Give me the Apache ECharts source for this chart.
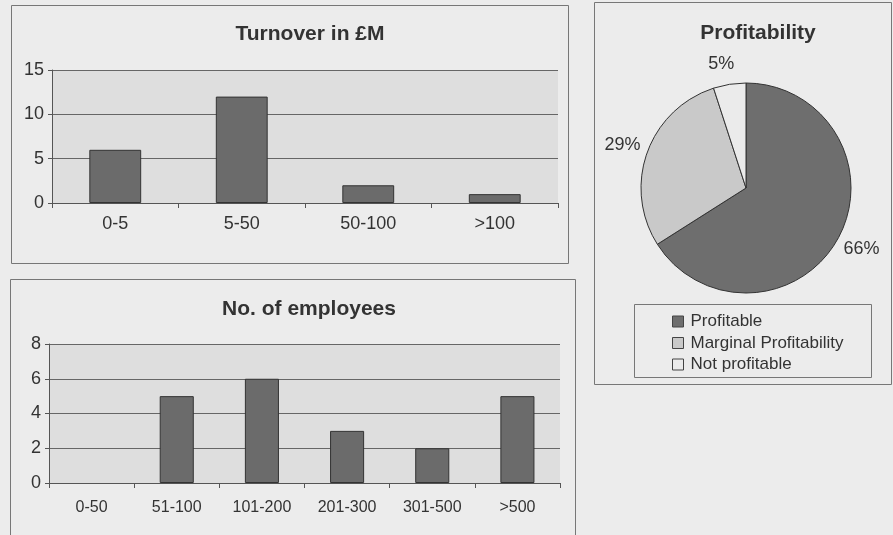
<!DOCTYPE html>
<html><head><meta charset="utf-8">
<script src="https://cdn.jsdelivr.net/npm/echarts@6/dist/echarts.min.js"></script>
<style>html,body{margin:0;padding:0;background:#ececec}#c{width:893px;height:535px}</style>
</head><body><div id="c"></div>
<script>
const turnoverCats = ['0-5', '5-50', '50-100', '>100'];
const turnoverVals = [6, 12, 2, 1];
const employeeCats = ['0-50', '51-100', '101-200', '201-300', '301-500', '>500'];
const employeeVals = [0, 5, 6, 3, 2, 5];
const profitNames = ['Profitable', 'Marginal Profitability', 'Not profitable'];
const profitVals = [66, 29, 5];
const profitColors = ['#6e6e6e', '#c9c9c9', '#ebebeb'];

const FONT = 'Liberation Sans, Arial, sans-serif';
const TXT = '#333';
const chart = echarts.init(document.getElementById('c'));

function boxRect(x1, y1, x2, y2, z) {
  return { type: 'rect', silent: true, z: z,
    shape: { x: x1 + 0.5, y: y1 + 0.5, width: x2 - x1, height: y2 - y1 },
    style: { fill: '#ececec', stroke: '#777', lineWidth: 1 } };
}
function barData(vals) {
  return vals.map(v => v === 0 ? { value: v, itemStyle: { borderWidth: 0, color: 'transparent' } } : v);
}

const option = {
  animation: false,
  backgroundColor: '#ececec',
  textStyle: { fontFamily: FONT },
  graphic: [
    boxRect(11, 5, 568, 263, -10),
    boxRect(10, 279, 575, 540, -10),
    boxRect(594, 2, 891, 384, -10),
    boxRect(634, 304, 871, 377, 1)
  ],
  title: [
    { text: 'Turnover in £M', left: 305, top: 19, textAlign: 'center',
      textStyle: { fontFamily: FONT, fontSize: 21, fontWeight: 'bold', color: TXT } },
    { text: 'No. of employees', left: 304, top: 294, textAlign: 'center',
      textStyle: { fontFamily: FONT, fontSize: 21, fontWeight: 'bold', color: TXT } },
    { text: 'Profitability', left: 753, top: 18, textAlign: 'center',
      textStyle: { fontFamily: FONT, fontSize: 21, fontWeight: 'bold', color: TXT } }
  ],
  legend: {
    orient: 'vertical', left: 672, top: 313, padding: 0, itemGap: 4.5,
    itemWidth: 11, itemHeight: 11, icon: 'rect', z: 5,
    data: profitNames,
    textStyle: { fontFamily: FONT, fontSize: 17, lineHeight: 17, color: TXT, padding: [0, 0, 0, 2] },
    itemStyle: { borderColor: '#444', borderWidth: 1 }
  },
  grid: [
    { left: 52, top: 70, width: 506, height: 133, show: true, backgroundColor: '#dedede', borderWidth: 0 },
    { left: 49, top: 344, width: 511, height: 139, show: true, backgroundColor: '#dedede', borderWidth: 0 }
  ],
  xAxis: [
    { type: 'category', gridIndex: 0, data: turnoverCats,
      axisLine: { lineStyle: { color: '#555' } },
      axisTick: { show: true, length: 5, lineStyle: { color: '#555' } },
      axisLabel: { fontFamily: FONT, fontSize: 18, color: TXT, margin: 12 } },
    { type: 'category', gridIndex: 1, data: employeeCats,
      axisLine: { lineStyle: { color: '#555' } },
      axisTick: { show: true, length: 5, lineStyle: { color: '#555' } },
      axisLabel: { fontFamily: FONT, fontSize: 16, color: TXT, margin: 17 } }
  ],
  yAxis: [
    { type: 'value', gridIndex: 0, min: 0, max: 15, interval: 5,
      axisLine: { show: true, lineStyle: { color: '#555' } },
      axisTick: { show: true, length: 4, lineStyle: { color: '#555' } },
      splitLine: { lineStyle: { color: '#666', width: 1 } },
      axisLabel: { fontFamily: FONT, fontSize: 18, color: TXT, margin: 8 } },
    { type: 'value', gridIndex: 1, min: 0, max: 8, interval: 2,
      axisLine: { show: true, lineStyle: { color: '#555' } },
      axisTick: { show: true, length: 4, lineStyle: { color: '#555' } },
      splitLine: { lineStyle: { color: '#666', width: 1 } },
      axisLabel: { fontFamily: FONT, fontSize: 18, color: TXT, margin: 8 } }
  ],
  series: [
    { type: 'bar', xAxisIndex: 0, yAxisIndex: 0, data: barData(turnoverVals), barWidth: '41%',
      itemStyle: { color: '#6b6b6b', borderColor: '#333', borderWidth: 1 } },
    { type: 'bar', xAxisIndex: 1, yAxisIndex: 1, data: barData(employeeVals), barWidth: '40%',
      itemStyle: { color: '#6b6b6b', borderColor: '#333', borderWidth: 1 } },
    { type: 'pie', center: [746, 188], radius: 105, startAngle: 90, clockwise: true,
      data: profitNames.map((n, i) => ({ name: n, value: profitVals[i], itemStyle: { color: profitColors[i] } })),
      itemStyle: { borderColor: '#333', borderWidth: 1 },
      label: { show: true, position: 'outside', formatter: '{d}%', fontFamily: FONT, fontSize: 18, color: TXT,
               overflow: 'none', width: 60 },
      labelLine: { show: false, length: 21, length2: 0 },
      labelLayout: function (p) {
        const r = p.labelRect;
        const ax = p.align === 'left' ? r.x : (p.align === 'right' ? r.x + r.width : r.x + r.width / 2);
        return { x: ax, y: r.y + r.height / 2, align: 'center', verticalAlign: 'middle' };
      },
      emphasis: { disabled: true } }
  ]
};
chart.setOption(option);
</script></body></html>
